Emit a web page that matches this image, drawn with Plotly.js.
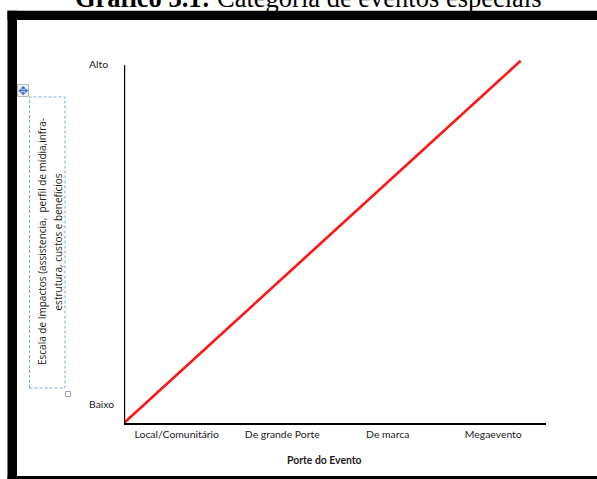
<!DOCTYPE html>
<html>
<head>
<meta charset="utf-8">
<script src="https://cdn.plot.ly/plotly-3.0.1.min.js"></script>
<style>html,body{margin:0;padding:0;background:#fff;overflow:hidden}#chart{width:597px;height:479px}</style>
</head>
<body>
<div id="chart"></div>
<script>
// ---- data ----
const categories = ["Local/Comunitário", "De grande Porte", "De marca", "Megaevento"];
const categoryPositions = [0, 1, 2, 3];
const lineX = [-0.5, 3.26];       // from origin to just past "Megaevento"
const lineY = [0, 1.012];         // from "Baixo" to slightly above "Alto"
const yTickLabels = ["Baixo", "Alto"];
const yTickValues = [0.053, 1.003];
const chartTitleBold = "Gráfico 3.1:";
const chartTitleRest = " Categoria de eventos especiais";
const xAxisTitle = "Porte do Evento";
const yAxisTitleLines = ["Escala de Impactos (assistencia,  perfil de mídia,infra-", "estrutura, custos e benefícios"];

// ---- layout helpers ----
const W = 597, H = 479;
const px = x => x / W;
const py = y => 1 - y / H;
const labelFont = {family: "Lato, 'Open Sans', sans-serif", size: 10.4, color: "#1a1a1a"};
const yTitleFont = {family: "'Open Sans', Lato, sans-serif", size: 10, color: "#1a1a1a"};
const axisBottomPx = 423, axisTopPx = 65, plotTopPx = 57;
const yMax = (axisBottomPx - plotTopPx) / (axisBottomPx - axisTopPx);

const trace = {
  x: lineX, y: lineY, type: "scatter", mode: "lines",
  line: {color: "#ff1414", width: 2.6},
  cliponaxis: false, hoverinfo: "skip", showlegend: false
};

const annotations = [
  {xref: "paper", yref: "paper", x: px(308), y: py(-2), xanchor: "center", yanchor: "middle",
   text: "<b>" + chartTitleBold + "</b>" + chartTitleRest, showarrow: false,
   font: {family: "'Liberation Serif', 'Times New Roman', serif", size: 26.5, color: "#000"}},
  {xref: "paper", yref: "paper", x: px(325), y: py(460), xanchor: "center", yanchor: "middle",
   text: "<b>" + xAxisTitle + "</b>", showarrow: false, font: labelFont},
  {xref: "paper", yref: "paper", x: px(42.5), y: py(241.5), xanchor: "center", yanchor: "middle",
   text: yAxisTitleLines[0], textangle: -90, showarrow: false, font: yTitleFont},
  {xref: "paper", yref: "paper", x: px(58), y: py(242.5), xanchor: "center", yanchor: "middle",
   text: yAxisTitleLines[1], textangle: -90, showarrow: false, font: yTitleFont},
  {xref: "paper", yref: "paper", x: px(23), y: py(90.5), xanchor: "center", yanchor: "middle",
   text: "✥", showarrow: false, font: {family: "DejaVu Sans", size: 12, color: "#3d70cc"}}
];
yTickLabels.forEach((t, i) => annotations.push({
  xref: "paper", yref: "y", x: px(87), y: yTickValues[i], xanchor: "left", yanchor: "middle",
  text: t, showarrow: false, font: labelFont
}));

const shapes = [
  // frame bars
  {type: "rect", xref: "paper", yref: "paper", x0: px(7.5), x1: px(597), y0: py(20), y1: py(10.7), fillcolor: "#000", line: {width: 0}},
  {type: "rect", xref: "paper", yref: "paper", x0: px(7.5), x1: px(17), y0: py(479), y1: py(10.7), fillcolor: "#000", line: {width: 0}},
  {type: "rect", xref: "paper", yref: "paper", x0: px(7.5), x1: px(597), y0: py(479), y1: py(476), fillcolor: "#000", line: {width: 0}},
  // vertical (impact) axis line, from Baixo level to Alto level
  {type: "line", xref: "x", yref: "y", x0: -0.5, x1: -0.5, y0: 0, y1: 1, line: {color: "#000", width: 2.4}},
  // dashed text box of y title
  {type: "rect", xref: "paper", yref: "paper", x0: px(29.5), x1: px(65), y0: py(388), y1: py(97), line: {color: "#7ea9e6", width: 1, dash: "3px,2px"}},
  // move icon box
  {type: "rect", xref: "paper", yref: "paper", x0: px(17.5), x1: px(28.5), y0: py(96.5), y1: py(84.5), fillcolor: "#f2f2f2", line: {color: "#b8b8b8", width: 1}},
  // resize handle
  {type: "rect", xref: "paper", yref: "paper", x0: px(65.5), x1: px(70.5), y0: py(396.5), y1: py(391.5), fillcolor: "#fff", line: {color: "#a0a0a0", width: 1}}
];

const layout = {
  width: W, height: H,
  margin: {l: 0, r: 0, t: 0, b: 0, pad: 0},
  paper_bgcolor: "#fff", plot_bgcolor: "#fff",
  showlegend: false,
  xaxis: {
    domain: [px(124), px(546)], range: [-0.5, 3.5],
    tickmode: "array", tickvals: categoryPositions, ticktext: categories,
    showline: true, linecolor: "#000", linewidth: 2.4,
    showgrid: false, zeroline: false, ticks: "", tickfont: labelFont, fixedrange: true
  },
  yaxis: {
    domain: [py(axisBottomPx), py(plotTopPx)], range: [0, yMax],
    showline: false,
    showgrid: false, zeroline: false, showticklabels: false, ticks: "", fixedrange: true
  },
  annotations: annotations,
  shapes: shapes
};

Plotly.newPlot("chart", [trace], layout, {displayModeBar: false, staticPlot: true});
</script>
</body>
</html>
